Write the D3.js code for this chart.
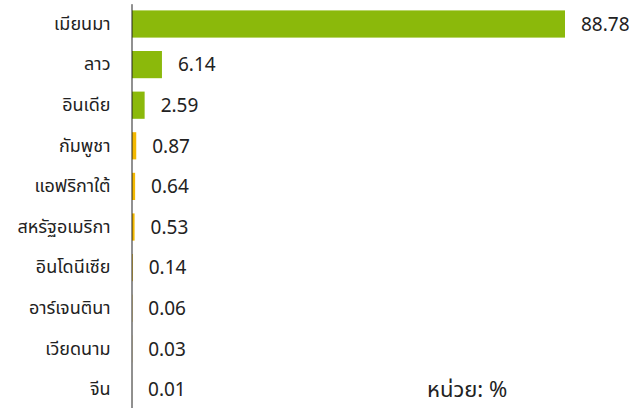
<!DOCTYPE html>
<html>
<head>
<meta charset="utf-8">
<script src="https://cdn.jsdelivr.net/npm/d3@7"></script>
<style>
  body { margin: 0; background: #fff; }
  svg { display: block; font-family: "Noto Sans", "Noto Sans Thai", "Loma", sans-serif; }
  .catLabel { font-size: 18px; fill: #222; }
  .valLabel { font-size: 19px; fill: #222; }
  .unitText { font-size: 22px; fill: #222; }
</style>
</head>
<body>
<div id="chart"></div>
<script>
// Countries and their share (%)
var countries = ['เมียนมา', 'ลาว', 'อินเดีย', 'กัมพูชา', 'แอฟริกาใต้', 'สหรัฐอเมริกา', 'อินโดนีเซีย', 'อาร์เจนตินา', 'เวียดนาม', 'จีน'];
var shares = [88.78, 6.14, 2.59, 0.87, 0.64, 0.53, 0.14, 0.06, 0.03, 0.01];
var valueLabels = ['88.78', '6.14', '2.59', '0.87', '0.64', '0.53', '0.14', '0.06', '0.03', '0.01'];
var unitLabel = 'หน่วย: %';

var svgWidth = 640;
var svgHeight = 408;

var data = countries.map(function(c, i) {
    return { name: c, value: shares[i], label: valueLabels[i], top: i < 3 };
});

var svg = d3.select('#chart')
    .append('svg')
        .attr('width', svgWidth)
        .attr('height', svgHeight);

var xScale = d3.scaleLinear()
    .domain([0, 88.78])
    .range([132, 565]);

var yScale = d3.scaleBand()
    .domain(countries)
    .range([3.7, 409.7])
    .paddingInner(0.33)
    .paddingOuter(0.165);

// bars
svg.selectAll('rect.bar')
    .data(data)
    .enter()
    .append('rect')
        .attr('class', 'bar')
        .attr('x', xScale(0))
        .attr('y', function(d) { return yScale(d.name); })
        .attr('width', function(d) { return xScale(d.value) - xScale(0); })
        .attr('height', yScale.bandwidth())
        .attr('fill', function(d) { return d.top ? '#8bb90b' : '#f3b800'; });

// value labels
svg.selectAll('text.valLabel')
    .data(data)
    .enter()
    .append('text')
        .attr('class', 'valLabel')
        .attr('x', function(d) { return xScale(d.value) + 16; })
        .attr('y', function(d) { return yScale(d.name) + yScale.bandwidth() / 2; })
        .attr('dy', '0.36em')
        .text(function(d) { return d.label; });

// category labels + axis line
var leftAxis = d3.axisLeft(yScale).tickSize(0).tickPadding(21);
var axisG = svg.append('g')
    .attr('transform', 'translate(131.5,0)')
    .call(leftAxis);
axisG.select('.domain').attr('stroke', '#222').attr('stroke-width', 1);
axisG.selectAll('.tick text')
    .attr('class', 'catLabel')
    .attr('font-size', null)
    .attr('font-family', null)
    .attr('fill', null);
axisG.attr('font-size', null).attr('font-family', null);

svg.append('text')
    .attr('class', 'unitText')
    .attr('x', 427)
    .attr('y', 397)
    .text(unitLabel);
</script>
</body>
</html>
